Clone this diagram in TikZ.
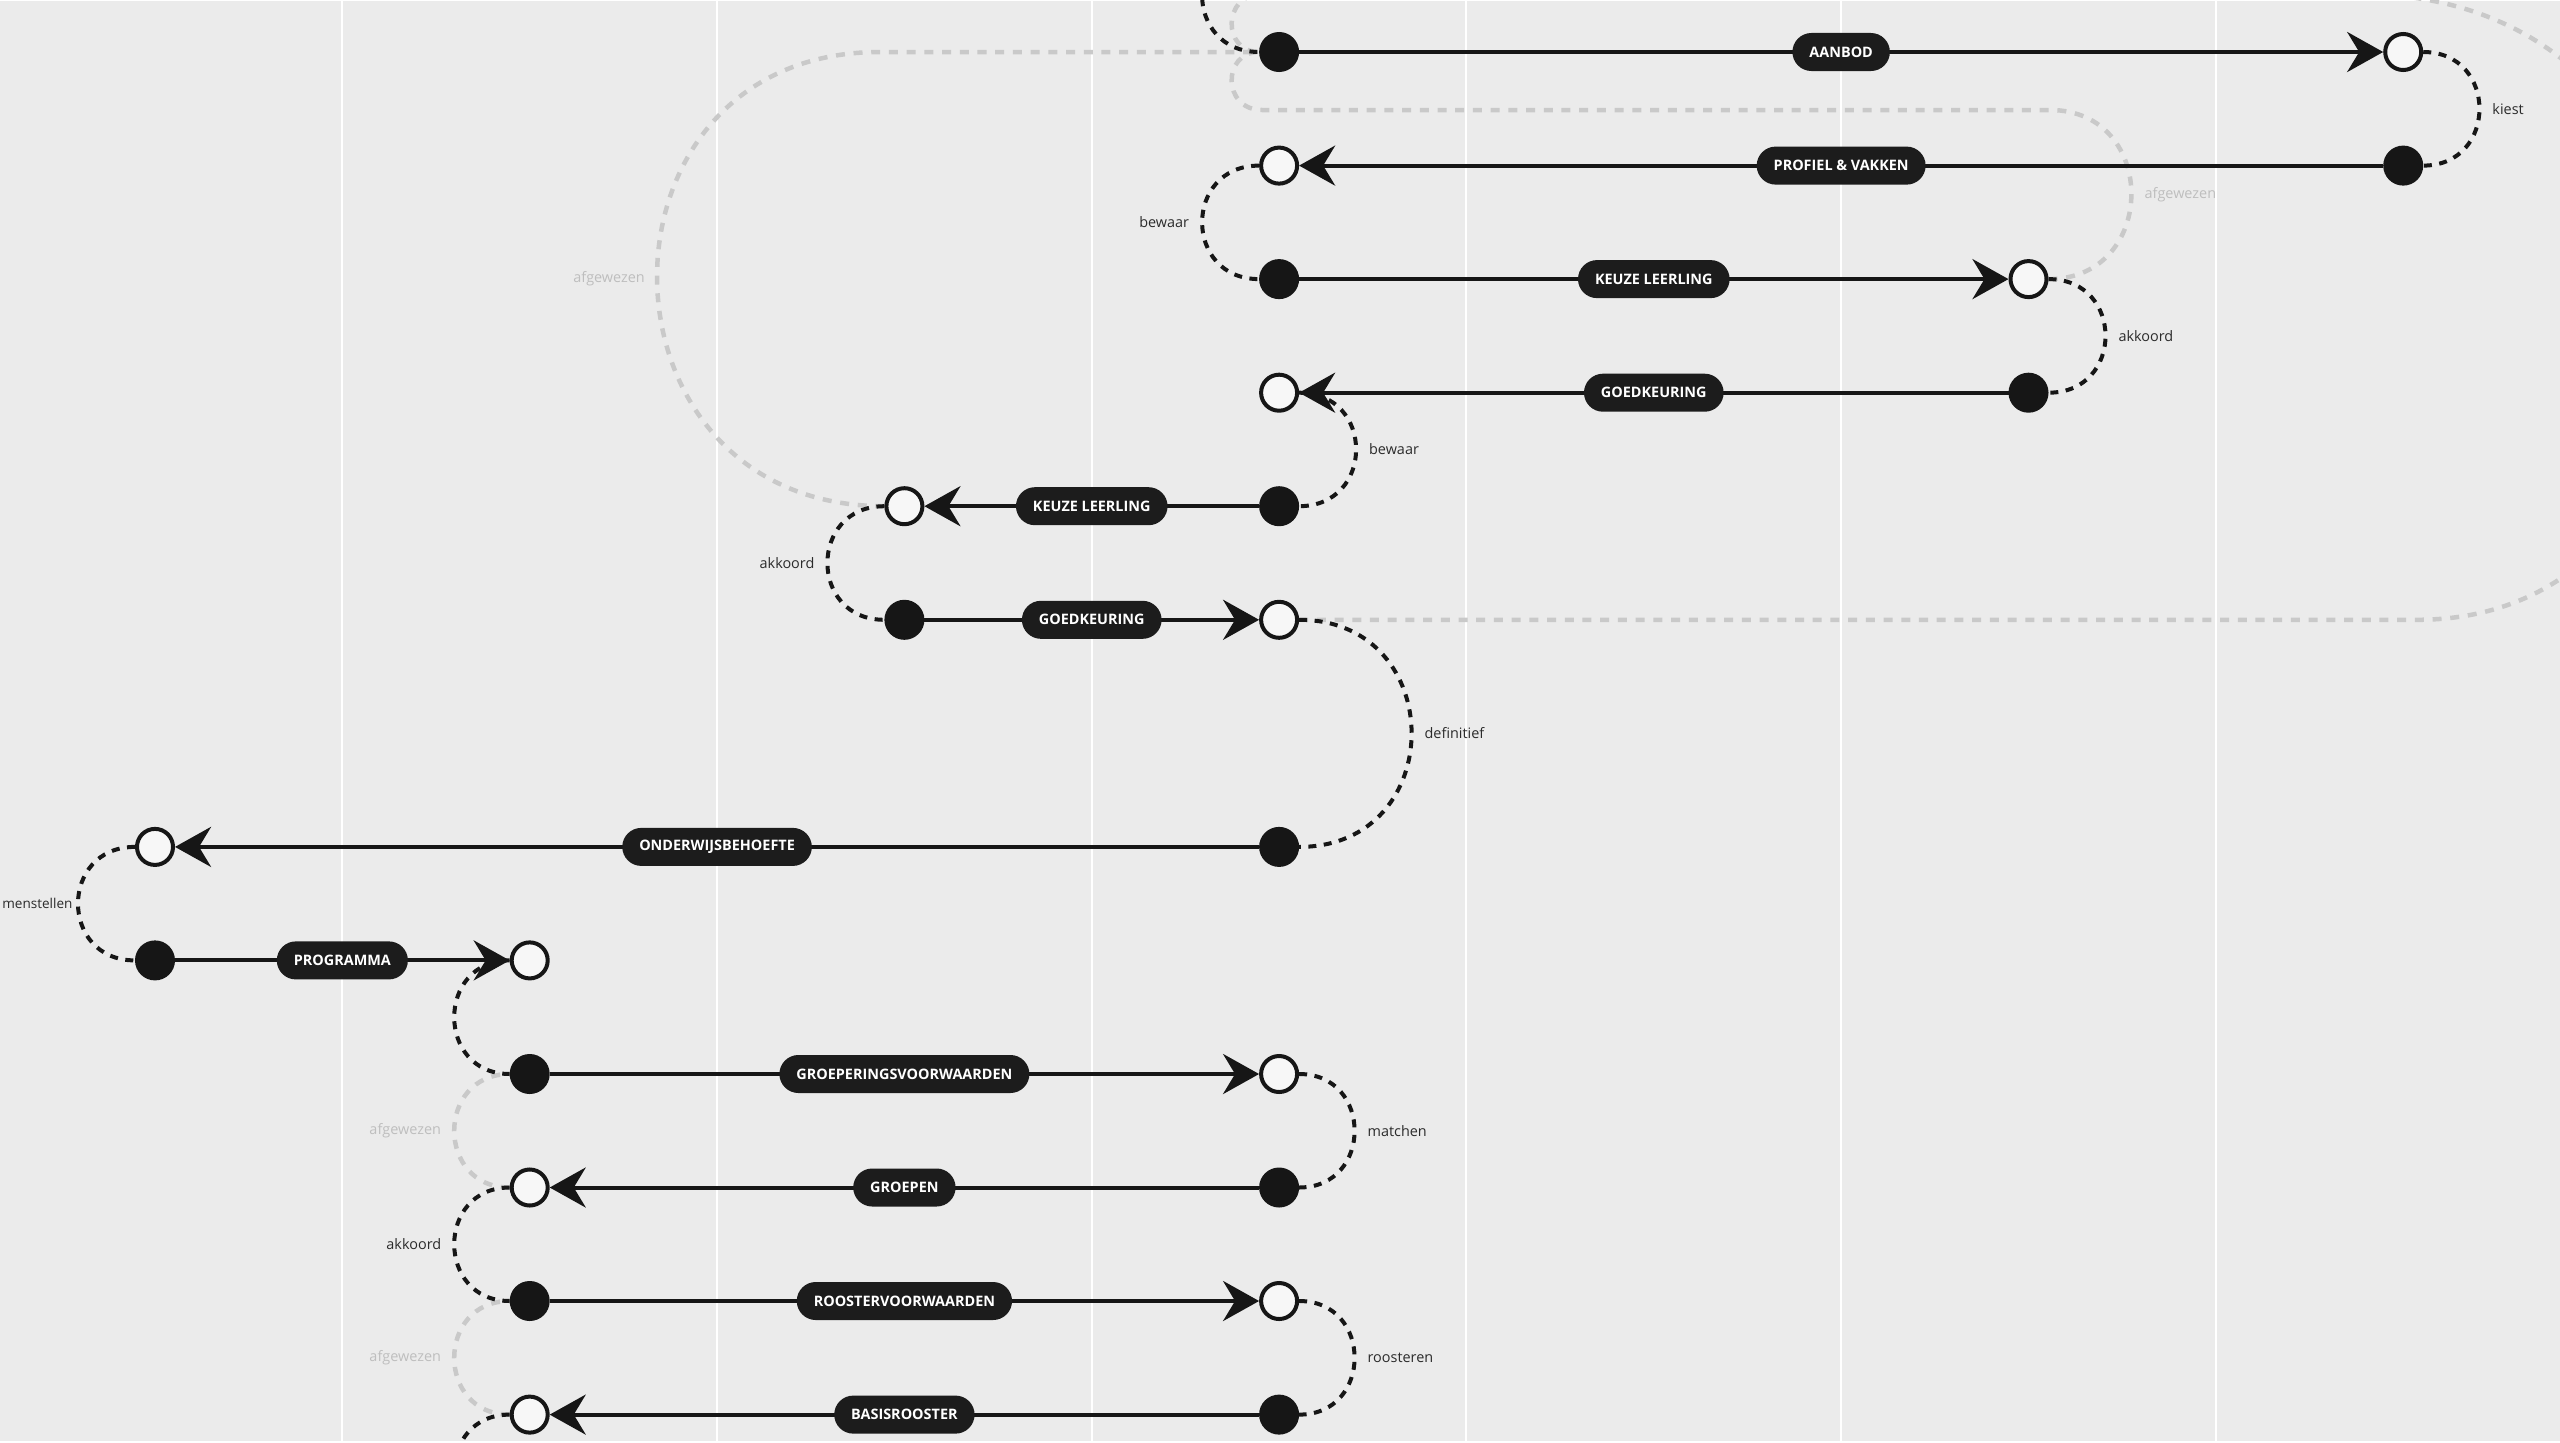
\documentclass[tikz,border=0pt]{standalone}
\usepackage{fontspec}
\setmainfont{Open Sans}
\usetikzlibrary{arrows.meta}
\definecolor{bgc}{HTML}{EBEBEB}
\definecolor{ink}{HTML}{161616}
\definecolor{pillc}{HTML}{1C1C1C}
\definecolor{hollowc}{HTML}{F7F7F7}
\definecolor{greyline}{HTML}{C9C9C9}
\definecolor{greytext}{HTML}{BEBEBE}
\definecolor{labc}{HTML}{2B2B2B}
\pgfdeclarelayer{bglayer}
\pgfdeclarelayer{greylayer}
\pgfdeclarelayer{connlayer}
\pgfsetlayers{bglayer,greylayer,connlayer,main}
\newcommand\pillfont{\fontsize{4.1pt}{5pt}\selectfont\bfseries}
\newcommand\labfont{\fontsize{4.1pt}{5pt}\selectfont}
\newcommand\edgelabfont{\fontsize{3.85pt}{5pt}\selectfont}
\tikzset{
  dot/.style={circle, fill=ink, minimum size=0.4cm, inner sep=0pt, outer sep=0pt},
  ring/.style={circle, draw=ink, fill=hollowc, line width=0.04cm, minimum size=0.36cm, inner sep=0pt},
  flow/.style={draw=ink, line width=0.04cm, -{Stealth[length=0.36cm, width=0.40cm, inset=0.12cm]}},
  pill/.style={fill=pillc, text=white, rounded corners=0.19cm, minimum height=0.38cm, inner xsep=0.17cm, inner ysep=0pt, font=\pillfont},
  conn/.style={draw=ink, line width=0.04cm, dash pattern=on 0.08cm off 0.075cm},
  rej/.style={draw=greyline, line width=0.045cm, dash pattern=on 0.09cm off 0.087cm},
  lab/.style={font=\labfont, text=labc, inner sep=0pt},
  rejlab/.style={font=\labfont, text=greytext, inner sep=0pt},
  gridline/.style={draw=white, line width=0.02cm},
}
\begin{document}
\begin{tikzpicture}[x=0.01cm, y=-0.01cm]
\begin{pgfonlayer}{bglayer}
  \fill[bgc] (0,0) rectangle (2560,1440);
  \foreach \gx in {342.3,716.9,1091.6,1466.3,1841,2215.6}
    \draw[gridline] (\gx,0) -- (\gx,1440);
\end{pgfonlayer}
\useasboundingbox (0,0) rectangle (2560,1440);

% nodes
\node[dot]  (r0a)  at (1279.1,51) {};
\node[ring] (r0b)  at (2403.2,51) {};
\node[dot]  (r1a)  at (2403.2,164.6) {};
\node[ring] (r1b)  at (1279.1,164.6) {};
\node[dot]  (r2a)  at (1279.1,278.1) {};
\node[ring] (r2b)  at (2028.5,278.1) {};
\node[dot]  (r3a)  at (2028.5,391.7) {};
\node[ring] (r3b)  at (1279.1,391.7) {};
\node[dot]  (r4a)  at (1279.1,505.2) {};
\node[ring] (r4b)  at (904.4,505.2) {};
\node[dot]  (r5a)  at (904.4,618.8) {};
\node[ring] (r5b)  at (1279.1,618.8) {};
\node[dot]  (r7a)  at (1279.1,845.9) {};
\node[ring] (r7b)  at (155,845.9) {};
\node[dot]  (r8a)  at (155,959.4) {};
\node[ring] (r8b)  at (529.7,959.4) {};
\node[dot]  (r9a)  at (529.7,1073) {};
\node[ring] (r9b)  at (1279.1,1073) {};
\node[dot]  (r10a) at (1279.1,1186.5) {};
\node[ring] (r10b) at (529.7,1186.5) {};
\node[dot]  (r11a) at (529.7,1300) {};
\node[ring] (r11b) at (1279.1,1300) {};
\node[dot]  (r12a) at (1279.1,1413.6) {};
\node[ring] (r12b) at (529.7,1413.6) {};
\coordinate (rm1) at (1259,-62.5);
\coordinate (r13) at (509.7,1527);

% flows
\draw[flow] (r0a) -- (r0b) node[pill, midway] (p0) {AANBOD};
\draw[flow] (r1a) -- (r1b) node[pill, midway] (p1) {PROFIEL \& VAKKEN};
\draw[flow] (r2a) -- (r2b) node[pill, midway] (p2) {KEUZE LEERLING};
\draw[flow] (r3a) -- (r3b) node[pill, midway] (p3) {GOEDKEURING};
\draw[flow] (r4a) -- (r4b) node[pill, midway] (p4) {KEUZE LEERLING};
\draw[flow] (r5a) -- (r5b) node[pill, midway] (p5) {GOEDKEURING};
\draw[flow] (r7a) -- (r7b) node[pill, midway] (p7) {ONDERWIJSBEHOEFTE};
\draw[flow] (r8a) -- (r8b) node[pill, midway] (p8) {PROGRAMMA};
\draw[flow] (r9a) -- (r9b) node[pill, midway] (p9) {GROEPERINGSVOORWAARDEN};
\draw[flow] (r10a) -- (r10b) node[pill, midway] (p10) {GROEPEN};
\draw[flow] (r11a) -- (r11b) node[pill, midway] (p11) {ROOSTERVOORWAARDEN};
\draw[flow] (r12a) -- (r12b) node[pill, midway] (p12) {BASISROOSTER};

% black dashed connectors
\begin{pgfonlayer}{connlayer}
\draw[conn] (rm1) .. controls +(-76,0) and +(-76,0) .. (r0a.west);
\draw[conn] (r0b.east) .. controls +(75,0) and +(75,0) .. (r1a.east)
  node[lab, pos=0.5, anchor=west, xshift=0.11cm] (l0) {kiest};
\draw[conn] (r1b.west) .. controls +(-76,0) and +(-76,0) .. (r2a.west)
  node[lab, pos=0.5, anchor=east, xshift=-0.11cm] (l1) {bewaar};
\draw[conn] (r2b.east) .. controls +(76,0) and +(76,0) .. (r3a.east)
  node[lab, pos=0.5, anchor=west, xshift=0.11cm] (l2) {akkoord};
\draw[conn] (r3b.east) .. controls +(76,0) and +(76,0) .. (r4a.east)
  node[lab, pos=0.5, anchor=west, xshift=0.11cm] (l3) {bewaar};
\draw[conn] (r4b.west) .. controls +(-76,0) and +(-76,0) .. (r5a.west)
  node[lab, pos=0.5, anchor=east, xshift=-0.11cm] (l4) {akkoord};
\draw[conn] (r5b.east) .. controls +(150,0) and +(150,0) .. (r7a.east)
  node[lab, pos=0.5, anchor=west, xshift=0.11cm] (l5) {definitief};
\draw[conn] (r7b.west) .. controls +(-76,0) and +(-76,0) .. (r8a.west)
  node[lab, font=\edgelabfont, pos=0.5, anchor=east, xshift=-0.035cm] (l7) {menstellen};
\draw[conn] (r8b.west) .. controls +(-74,0) and +(-74,0) .. (r9a.west);
\draw[conn] (r9b.east) .. controls +(74,0) and +(74,0) .. (r10a.east)
  node[lab, pos=0.5, anchor=west, xshift=0.11cm] (l9) {matchen};
\draw[conn] (r10b.west) .. controls +(-74,0) and +(-74,0) .. (r11a.west)
  node[lab, pos=0.5, anchor=east, xshift=-0.11cm] (l10) {akkoord};
\draw[conn] (r11b.east) .. controls +(74,0) and +(74,0) .. (r12a.east)
  node[lab, pos=0.5, anchor=west, xshift=0.11cm] (l11) {roosteren};
\draw[conn] (r12b.west) .. controls +(-74,0) and +(-74,0) .. (r13);
\end{pgfonlayer}

% grey rejected connectors
\begin{pgfonlayer}{greylayer}
\draw[rej] (r4b.west) .. controls (584,505.2) and (580,51) .. (880,51)
  node[rejlab, pos=0.5, anchor=east, xshift=-0.1cm] (g1) {afgewezen}
  -- (r0a.west);
\draw[rej] (r2b.east) .. controls +(110,0) and (2159,109) .. (2050,109)
  node[rejlab, pos=0.5, anchor=west, xshift=0.11cm] (g2) {afgewezen}
  -- (1262,109) .. controls (1222,109) and (1222,51) .. (r0a.west);
\draw[rej] (r5b.east) -- (2417,618.8) .. controls (2780,618.8) and (2780,-7) .. (2360,-7)
  -- (1262,-7) .. controls (1222,-7) and (1222,51) .. (r0a.west);
\draw[rej] (r10b.west) .. controls +(-74,0) and +(-74,0) .. (r9a.west)
  node[rejlab, pos=0.5, anchor=east, xshift=-0.11cm] (g4) {afgewezen};
\draw[rej] (r12b.west) .. controls +(-74,0) and +(-74,0) .. (r11a.west)
  node[rejlab, pos=0.5, anchor=east, xshift=-0.11cm] (g5) {afgewezen};
\end{pgfonlayer}
\end{tikzpicture}
\end{document}
